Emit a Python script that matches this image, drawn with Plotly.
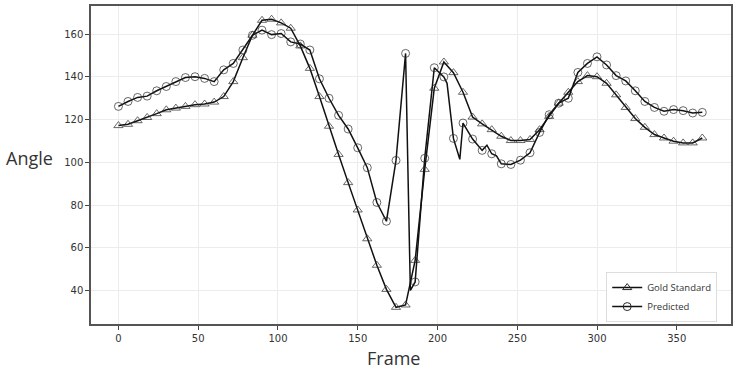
import plotly.graph_objects as go

# Gold Standard (triangles)
gold_frames = [0, 6, 12, 18, 24, 30, 36, 42, 48, 54, 60, 66, 72, 78, 84, 90, 96, 102, 108, 114,
               120, 126, 132, 138, 144, 150, 156, 162, 168, 174, 180, 186, 192, 198, 204, 210,
               216, 222, 228, 234, 240, 246, 252, 258, 264, 270, 276, 282, 288, 294, 300, 306,
               312, 318, 324, 330, 336, 342, 348, 354, 360, 366]
gold_values = [117.2, 117.8, 119.5, 121.0, 122.8, 124.6, 125.4, 126.2, 127.0, 127.3, 128.2, 130.8,
               137.8, 149.0, 159.5, 166.5, 167.0, 165.3, 162.8, 154.5, 144.0, 130.8, 116.9, 103.7,
               90.5, 77.7, 64.2, 51.8, 40.5, 32.1, 33.2, 54.1, 96.7, 134.7, 147.0, 142.0, 132.8,
               121.2, 118.0, 115.3, 112.2, 110.2, 110.2, 110.7, 115.3, 121.5, 127.7, 132.8, 137.8,
               140.6, 140.1, 137.0, 131.6, 125.7, 120.5, 116.4, 113.0, 111.4, 109.9, 109.1, 109.1,
               111.4]

# Predicted (circles); includes a few extra line vertices between sampled markers
pred_frames = [0, 6, 12, 18, 24, 30, 36, 42, 48, 54, 60, 66, 72, 78, 84, 90, 96, 102, 108, 114,
               120, 126, 132, 138, 144, 150, 156, 162, 168, 174, 180, 183, 186, 192, 198, 204, 206,
               210, 214, 216, 222, 228, 231, 234, 237, 240, 246, 252, 258, 264, 270, 276, 282, 288,
               294, 300, 306, 312, 318, 324, 330, 336, 342, 348, 354, 360, 366]
pred_values = [126.2, 128.5, 130.4, 131.0, 133.5, 135.5, 137.8, 139.7, 140.1, 139.3, 137.8, 143.3,
               146.3, 152.6, 159.5, 161.9, 159.8, 160.3, 156.4, 155.4, 152.6, 139.1, 130.0, 122.0,
               115.6, 106.8, 97.5, 81.2, 72.4, 100.9, 151.0, 40.0, 44.0, 101.9, 144.3, 140.0, 137.0,
               111.2, 101.4, 118.4, 110.9, 105.6, 108.0, 104.0, 103.0, 99.3, 99.0, 101.0, 104.5,
               114.0, 122.3, 127.7, 130.0, 142.1, 146.3, 149.4, 145.6, 140.6, 138.1, 133.5, 128.5,
               125.7, 123.9, 124.7, 124.2, 123.1, 123.4]

x_ticks = [0, 50, 100, 150, 200, 250, 300, 350]
y_ticks = [40, 60, 80, 100, 120, 140, 160]

LINE = "#111111"
MK = "#2a2a2a"
MSIZE = 8


def sizes(frames):
    return [MSIZE if f % 6 == 0 else 0 for f in frames]


fig = go.Figure()
fig.add_trace(go.Scatter(
    x=gold_frames, y=gold_values, mode="lines+markers", showlegend=False,
    line=dict(color=LINE, width=1.5),
    marker=dict(symbol="triangle-up-open", size=sizes(gold_frames), color=MK,
                line=dict(width=1, color=MK)),
))
fig.add_trace(go.Scatter(
    x=pred_frames, y=pred_values, mode="lines+markers", showlegend=False,
    line=dict(color=LINE, width=1.5),
    marker=dict(symbol="circle-open", size=sizes(pred_frames), color=MK,
                line=dict(width=1, color=MK)),
))
# legend entries
fig.add_trace(go.Scatter(
    x=[None], y=[None], mode="lines+markers", name="Gold Standard",
    line=dict(color=LINE, width=1.5),
    marker=dict(symbol="triangle-up-open", size=MSIZE, color=MK),
))
fig.add_trace(go.Scatter(
    x=[None], y=[None], mode="lines+markers", name="Predicted",
    line=dict(color=LINE, width=1.5),
    marker=dict(symbol="circle-open", size=MSIZE, color=MK),
))

axis_common = dict(
    showline=True, linecolor="#555555", linewidth=1.5, mirror=True,
    showgrid=True, gridcolor="#ececec", gridwidth=1,
    ticks="outside", ticklen=4, tickcolor="#444444",
    tickfont=dict(family="DejaVu Sans", size=10, color="#333333"),
    zeroline=False,
)

fig.update_layout(
    width=737, height=371,
    margin=dict(l=91, r=4, t=4, b=47),
    paper_bgcolor="white", plot_bgcolor="white",
    xaxis=dict(range=[-17.2, 384], tickvals=x_ticks, **axis_common),
    yaxis=dict(range=[24.3, 173.2], tickvals=y_ticks, **axis_common),
    legend=dict(x=0.805, y=0.006, xanchor="left", yanchor="bottom",
                bgcolor="white", bordercolor="#dddddd", borderwidth=1,
                font=dict(family="Open Sans", size=9.5, color="#333333"),
                tracegroupgap=0, itemwidth=30),
    annotations=[
        dict(text="Angle", x=-0.136, y=0.522, xref="paper", yref="paper",
             xanchor="left", yanchor="middle", showarrow=False,
             font=dict(family="Open Sans", size=18, color="#333333")),
        dict(text="Frame", x=0.473, y=-0.064, xref="paper", yref="paper",
             xanchor="center", yanchor="top", showarrow=False,
             font=dict(family="Open Sans", size=18, color="#333333")),
    ],
)

fig.write_html("out.html")
